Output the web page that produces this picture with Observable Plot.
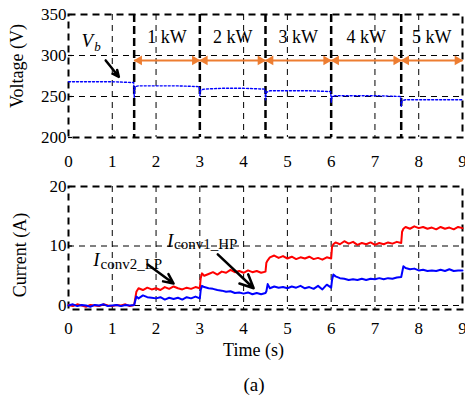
<!DOCTYPE html>
<html><head><meta charset="utf-8">
<script src="https://cdn.jsdelivr.net/npm/d3@7"></script>
<script src="https://cdn.jsdelivr.net/npm/@observablehq/plot@0.6"></script>
<style>
body{margin:0;background:#fff;}
#wrap{position:relative;width:465px;height:397px;font-family:"Liberation Serif","Times New Roman",serif;}
#topPanel,#botPanel{position:absolute;left:0;}
#topPanel{top:0px;} #botPanel{top:172px;}
#cap{position:absolute;left:254px;top:373px;transform:translateX(-50%);font-size:19px;line-height:24px;}
</style></head>
<body><div id="wrap"><div id="topPanel"></div><div id="botPanel"></div><div id="cap">(a)</div></div>
<script>
// ---- data ----
const xTicks = [0,1,2,3,4,5,6,7,8,9];
const vTicks = [200,250,300,350];
const iTicks = [0,10,20];
const kwLabels = ["1 kW","2 kW","3 kW","4 kW","5 kW"];
const stepStart = [1.5,3,4.5,6,7.6];
const stepEnd = [3,4.5,6,7.6,9];

const vTime = [0,0.5,1.0,1.49,1.5,1.52,1.6,2.0,2.5,2.99,3.0,3.02,3.1,3.5,4.0,4.49,4.5,4.52,4.6,5.0,5.5,5.99,6.0,6.02,6.1,6.5,7.0,7.59,7.6,7.62,7.7,8.0,8.5,9.0];
const vVal  = [268,268,268,267,249,262,263,263,263,262,251,258,259,260,260,259,246,255,257,257,257,256,243,250,251,251,251,250,238,245,246,246,246,246];

const curT = [0,0.1,0.2,0.3,0.4,0.5,0.6,0.7,0.8,0.9,1.0,1.1,1.2,1.3,1.4,1.5,
  1.55,1.6,1.7,1.8,1.9,2.0,2.1,2.2,2.3,2.4,2.5,2.6,2.7,2.8,2.9,3.0,
  3.02,3.05,3.1,3.2,3.3,3.4,3.5,3.6,3.7,3.8,3.9,4.0,4.1,4.2,4.3,4.4,4.5,
  4.52,4.55,4.6,4.7,4.8,4.9,5.0,5.1,5.2,5.3,5.4,5.5,5.6,5.7,5.8,5.9,6.0,
  6.02,6.05,6.1,6.2,6.3,6.4,6.5,6.6,6.7,6.8,6.9,7.0,7.1,7.2,7.3,7.4,7.5,7.6,
  7.62,7.65,7.7,7.8,7.9,8.0,8.1,8.2,8.3,8.4,8.5,8.6,8.7,8.8,8.9,9.0];
const redI = [0.1,-0.1,0.2,0.0,-0.2,0.1,0.0,-0.1,0.2,0.0,-0.1,0.1,0.0,0.2,-0.1,0.1,
  2.3,2.9,2.6,3.0,2.7,2.9,2.6,3.1,2.8,3.2,2.9,2.7,3.0,2.8,3.1,2.9,
  4.6,5.4,5.0,5.3,5.6,5.2,5.7,5.5,6.0,5.6,5.8,5.5,5.9,5.6,5.8,5.5,5.7,
  7.2,7.6,8.1,8.4,8.0,8.3,7.9,8.2,7.8,8.1,7.9,8.2,7.8,8.0,7.7,8.1,7.9,
  9.8,10.3,10.6,10.3,10.8,10.4,10.7,10.2,10.5,10.3,10.6,10.2,10.5,10.3,10.6,10.4,10.7,10.5,
  12.4,12.9,13.2,12.9,13.3,13.0,13.2,12.9,13.1,12.8,13.2,12.9,13.1,12.8,13.2,13.0];
const blueI = [0.0,0.2,-0.1,0.1,0.0,-0.2,0.1,0.0,0.2,-0.1,0.0,0.1,-0.1,0.1,0.0,0.1,
  1.5,1.2,1.7,1.4,1.3,1.2,1.4,1.0,1.3,1.1,1.3,1.0,1.4,1.2,1.5,1.2,
  2.6,3.3,3.1,2.9,2.8,2.6,2.5,2.3,2.4,2.1,2.2,2.0,2.2,1.9,2.1,1.9,2.1,
  2.4,3.6,2.9,3.2,3.0,3.1,2.9,3.2,3.0,3.3,2.9,3.1,2.8,3.3,2.7,3.5,3.0,
  4.3,5.2,4.9,4.6,4.5,4.3,4.4,4.3,4.5,4.3,4.5,4.4,4.6,4.4,4.6,4.5,4.7,4.8,
  5.5,6.6,6.3,6.1,6.2,5.9,6.0,5.8,5.9,5.8,6.0,5.8,6.1,5.8,5.9,5.9];

const arrowY = 294, kwY = 322;

// ---- tables ----
const volt = vTime.map((t,i)=>({t, v:vVal[i]}));
const red = curT.map((t,i)=>({t, v:redI[i]}));
const blue = curT.map((t,i)=>({t, v:blueI[i]}));
const segs = stepStart.map((s,i)=>({s, e:stepEnd[i], m:(s+stepEnd[i])/2, label:kwLabels[i]}));

const font = '"Liberation Serif","Times New Roman",serif';
const thin = {stroke:"black", strokeWidth:1, strokeDasharray:"6,5"};
const orange = "#ED7D31";

const topChart = Plot.plot({
  width:465, height:170, marginTop:14, marginBottom:33, marginLeft:68, marginRight:3,
  style:{fontFamily:font, background:"white"},
  x:{domain:[0,9]}, y:{domain:[200,350]},
  marks:[
    Plot.ruleY([250,300], thin),
    Plot.ruleX([1,2,4,5,7,8], thin),
    Plot.ruleX(stepStart, {stroke:"black", strokeWidth:2.5, strokeDasharray:"8,4"}),
    Plot.frame({stroke:"black", strokeWidth:2, strokeDasharray:"7,5"}),
    Plot.ruleY(vTicks, {stroke:"black", strokeWidth:1.2, insetRight:390}),
    Plot.line(volt, {x:"t", y:"v", stroke:"#0000FF", strokeWidth:1.4, strokeDasharray:"2,2"}),
    Plot.link(segs, {x1:"s", y1:arrowY, x2:"e", y2:arrowY, stroke:orange, strokeWidth:2}),
    Plot.dot(segs, {x:"s", y:arrowY, symbol:"triangle", r:3.6, fill:orange, rotate:-90, dx:5}),
    Plot.dot(segs, {x:"e", y:arrowY, symbol:"triangle", r:3.6, fill:orange, rotate:90, dx:-5}),
    Plot.text(segs, {x:"m", y:kwY, text:"label", fontSize:18, fill:"black"}),
    Plot.text(["V"], {x:0.43, y:318, text:d=>d, fontSize:19, fontStyle:"italic"}),
    Plot.text(["b"], {x:0.43, y:318, text:d=>d, fontSize:13, fontStyle:"italic", dx:7, dy:6, textAnchor:"start"}),
    Plot.arrow([0], {x1:0.85, y1:294, x2:1.15, y2:274, stroke:"black", strokeWidth:2.5, headLength:9, headAngle:50}),
    Plot.axisX({ticks:xTicks, tickSize:0, tickPadding:17, fontSize:17, label:null}),
    Plot.axisY({ticks:vTicks, tickSize:0, tickPadding:2, fontSize:17, label:null}),
    Plot.text(["Voltage (V)"], {frameAnchor:"left", text:d=>d, rotate:-90, textAnchor:"middle", lineAnchor:"middle", dx:-51, dy:-10, fontSize:18})
  ]
});
document.getElementById("topPanel").appendChild(topChart);

const botChart = Plot.plot({
  width:465, height:190, marginTop:14, marginBottom:53, marginLeft:68, marginRight:3,
  style:{fontFamily:font, background:"white"},
  x:{domain:[0,9]}, y:{domain:[-0.67,20]},
  marks:[
    Plot.ruleY([0,10], thin),
    Plot.ruleX([1,2,3,4,5,6,7,8], thin),
    Plot.frame({stroke:"black", strokeWidth:2, strokeDasharray:"7,5"}),
    Plot.ruleY(iTicks, {stroke:"black", strokeWidth:1.2, insetRight:390}),
    Plot.line(red, {x:"t", y:"v", stroke:"#FF0000", strokeWidth:2}),
    Plot.line(blue, {x:"t", y:"v", stroke:"#0000FF", strokeWidth:2}),
    Plot.text(["I"], {x:0.64, y:7.6, text:d=>d, fontSize:19, fontStyle:"italic"}),
    Plot.text(["conv2_LP"], {x:0.64, y:7.6, text:d=>d, fontSize:15, dx:4, dy:4, textAnchor:"start"}),
    Plot.text(["I"], {x:2.32, y:10.9, text:d=>d, fontSize:19, fontStyle:"italic"}),
    Plot.text(["conv1_HP"], {x:2.32, y:10.9, text:d=>d, fontSize:15, dx:4, dy:4, textAnchor:"start"}),
    Plot.arrow([0], {x1:1.81, y1:6.9, x2:2.40, y2:3.7, stroke:"black", strokeWidth:2.5, headLength:9, headAngle:50}),
    Plot.arrow([0], {x1:3.41, y1:8.6, x2:4.23, y2:2.9, stroke:"black", strokeWidth:2.5, headLength:9, headAngle:50}),
    Plot.axisX({ticks:xTicks, tickSize:0, tickPadding:12, fontSize:17, label:null}),
    Plot.axisY({ticks:iTicks, tickSize:0, tickPadding:2, fontSize:17, label:null}),
    Plot.text(["Current (A)"], {frameAnchor:"left", text:d=>d, rotate:-90, textAnchor:"middle", lineAnchor:"middle", dx:-48, dy:7, fontSize:18}),
    Plot.text(["Time (s)"], {frameAnchor:"bottom", text:d=>d, textAnchor:"middle", lineAnchor:"middle", dx:-12, dy:41, fontSize:18})
  ]
});
document.getElementById("botPanel").appendChild(botChart);
</script></body></html>
